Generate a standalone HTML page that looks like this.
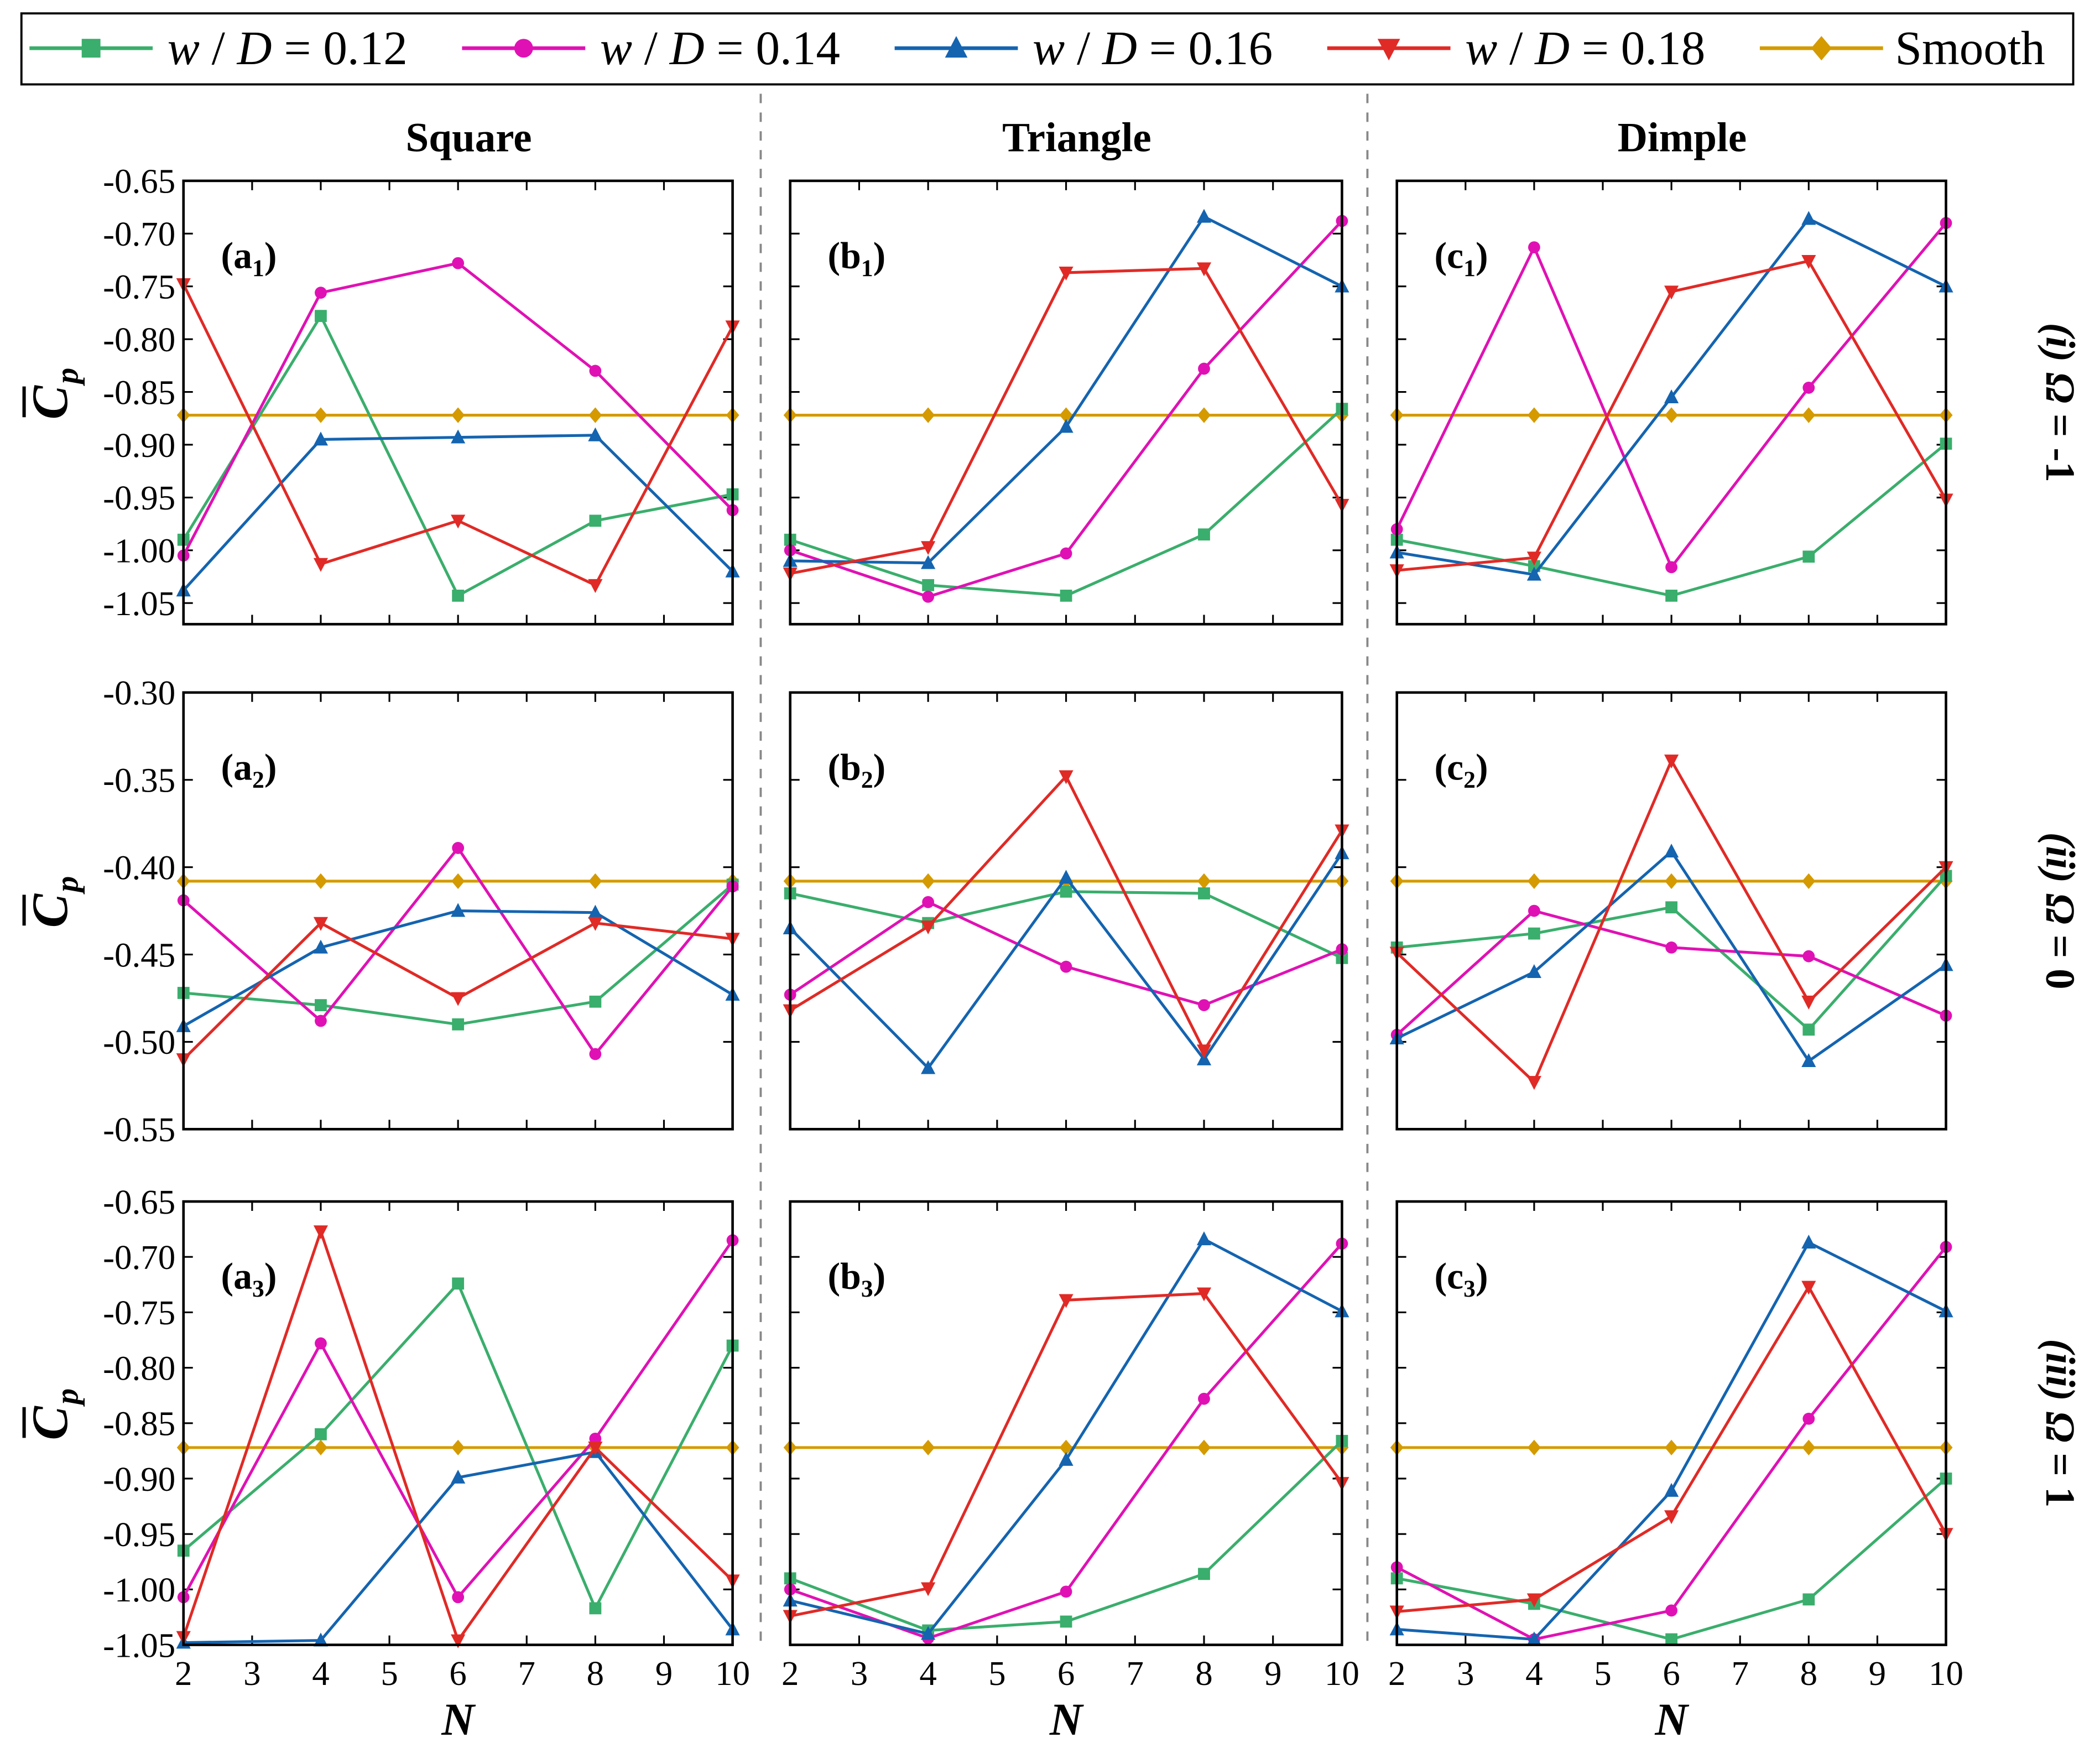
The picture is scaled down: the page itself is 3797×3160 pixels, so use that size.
<!DOCTYPE html>
<html><head><meta charset="utf-8"><style>
html,body{margin:0;padding:0;background:#fff;}
svg{display:block;}
svg text, svg tspan{font-family:"Times New Roman","Liberation Serif",Times,"DejaVu Serif",serif !important;}
</style></head><body>
<svg id="chart" xmlns="http://www.w3.org/2000/svg" width="3797" height="3160" viewBox="0 0 1568 1305" preserveAspectRatio="none">
<rect width="1568" height="1305" fill="#fff"/>
<g id="g"></g>
</svg>
<script>
const NS="http://www.w3.org/2000/svg";
const root=document.getElementById('g');
function mk(tag,attrs,parent,txt){const e=document.createElementNS(NS,tag);for(const k in attrs)e.setAttribute(k,attrs[k]);if(tag==='text')e.style.fontFamily='"Times New Roman","Liberation Serif",Times,serif';if(txt!==undefined)e.textContent=txt;(parent||root).appendChild(e);return e;}

const xCats=[2,4,6,8,10];
const xTicks=[2,3,4,5,6,7,8,9,10];
const seriesNames=["w / D = 0.12","w / D = 0.14","w / D = 0.16","w / D = 0.18","Smooth"];
const seriesColors=["#3aae6c","#e011b4","#1464b0","#e02a26","#d49a00"];
const seriesMarkers=["square","circle","up","down","diamond"];
const colTitles=["Square","Triangle","Dimple"];
const rowLabels=["(i) Ω = -1","(ii) Ω = 0","(iii) Ω = 1"];
const yTicksR1=["-0.65","-0.70","-0.75","-0.80","-0.85","-0.90","-0.95","-1.00","-1.05"];
const yTicksR2=["-0.30","-0.35","-0.40","-0.45","-0.50","-0.55"];
const yTicksR3=["-0.65","-0.70","-0.75","-0.80","-0.85","-0.90","-0.95","-1.00","-1.05"];
const smoothR1=-0.872, smoothR2=-0.408, smoothR3=-0.872;

// Row 1 (Omega=-1)
const a1_g=[-0.990,-0.778,-1.043,-0.972,-0.947];
const a1_m=[-1.005,-0.756,-0.728,-0.830,-0.962];
const a1_b=[-1.038,-0.895,-0.893,-0.891,-1.020];
const a1_r=[-0.748,-1.013,-0.972,-1.033,-0.788];
const b1_g=[-0.990,-1.033,-1.043,-0.985,-0.866];
const b1_m=[-1.000,-1.044,-1.003,-0.828,-0.688];
const b1_b=[-1.010,-1.012,-0.883,-0.684,-0.750];
const b1_r=[-1.022,-0.997,-0.737,-0.733,-0.957];
const c1_g=[-0.990,-1.015,-1.043,-1.006,-0.899];
const c1_m=[-0.980,-0.713,-1.016,-0.846,-0.690];
const c1_b=[-1.002,-1.023,-0.855,-0.686,-0.750];
const c1_r=[-1.019,-1.007,-0.755,-0.726,-0.952];
// Row 2 (Omega=0)
const a2_g=[-0.472,-0.479,-0.490,-0.477,-0.410];
const a2_m=[-0.419,-0.488,-0.389,-0.507,-0.411];
const a2_b=[-0.491,-0.446,-0.425,-0.426,-0.473];
const a2_r=[-0.510,-0.432,-0.475,-0.432,-0.441];
const b2_g=[-0.415,-0.432,-0.414,-0.415,-0.452];
const b2_m=[-0.473,-0.420,-0.457,-0.479,-0.447];
const b2_b=[-0.435,-0.515,-0.406,-0.510,-0.392];
const b2_r=[-0.482,-0.434,-0.348,-0.505,-0.379];
const c2_g=[-0.446,-0.438,-0.423,-0.493,-0.405];
const c2_m=[-0.496,-0.425,-0.446,-0.451,-0.485];
const c2_b=[-0.498,-0.460,-0.391,-0.511,-0.456];
const c2_r=[-0.449,-0.523,-0.339,-0.477,-0.400];
// Row 3 (Omega=1)
const a3_g=[-0.965,-0.860,-0.724,-1.017,-0.780];
const a3_m=[-1.007,-0.778,-1.007,-0.864,-0.685];
const a3_b=[-1.048,-1.046,-0.899,-0.876,-1.036];
const a3_r=[-1.043,-0.677,-1.046,-0.872,-0.992];
const b3_g=[-0.990,-1.037,-1.029,-0.986,-0.866];
const b3_m=[-1.000,-1.044,-1.002,-0.828,-0.688];
const b3_b=[-1.010,-1.040,-0.883,-0.684,-0.749];
const b3_r=[-1.024,-0.999,-0.739,-0.733,-0.904];
const c3_g=[-0.990,-1.013,-1.045,-1.009,-0.900];
const c3_m=[-0.980,-1.045,-1.019,-0.846,-0.691];
const c3_b=[-1.036,-1.045,-0.911,-0.687,-0.749];
const c3_r=[-1.020,-1.009,-0.934,-0.727,-0.950];

const panelData=[
 [[a1_g,a1_m,a1_b,a1_r],[b1_g,b1_m,b1_b,b1_r],[c1_g,c1_m,c1_b,c1_r]],
 [[a2_g,a2_m,a2_b,a2_r],[b2_g,b2_m,b2_b,b2_r],[c2_g,c2_m,c2_b,c2_r]],
 [[a3_g,a3_m,a3_b,a3_r],[b3_g,b3_m,b3_b,b3_r],[c3_g,c3_m,c3_b,c3_r]]];
const smooth=[smoothR1,smoothR2,smoothR3];
const yTickSets=[yTicksR1,yTicksR2,yTicksR3];
const yRanges=[[-1.07,-0.65],[-0.55,-0.30],[-1.05,-0.65]];

const colX=[[137,547],[590,1002],[1043,1453]];
const rowY=[[135,466],[517,843],[897,1228]];

function marker(type,x,y,c,parent,s){
  s=s||4.5;
  if(type==="square")return mk('rect',{x:x-s,y:y-s,width:2*s,height:2*s,fill:c},parent);
  if(type==="circle")return mk('circle',{cx:x,cy:y,r:s,fill:c},parent);
  if(type==="up")return mk('polygon',{points:`${x},${y-s*1.3} ${x-s*1.2},${y+s} ${x+s*1.2},${y+s}`,fill:c},parent);
  if(type==="down")return mk('polygon',{points:`${x},${y+s*1.3} ${x-s*1.2},${y-s} ${x+s*1.2},${y-s}`,fill:c},parent);
  return mk('polygon',{points:`${x},${y-s*1.3} ${x+s*1.1},${y} ${x},${y+s*1.3} ${x-s*1.1},${y}`,fill:c},parent);
}

const leg=mk('g',{});


mk('rect',{x:16,y:10,width:1532,height:53,fill:'#fff',stroke:'#000','stroke-width':1.6},leg);
const legX=[22,345,668,991,1314];
seriesNames.forEach((n,i)=>{
  const e=mk('g',{},leg);
  
  
  const x=legX[i];
  mk('line',{x1:x,y1:36,x2:x+92,y2:36,stroke:seriesColors[i],'stroke-width':2.8},e);
  marker(seriesMarkers[i],x+46,36,seriesColors[i],e,7);
  if(i<4){
    const t=mk('text',{x:x+103,y:48,'font-size':36},e);
    mk('tspan',{'font-style':'italic'},t,'w');mk('tspan',{},t,' / ');mk('tspan',{'font-style':'italic'},t,'D');mk('tspan',{},t,' = 0.1'+(2+2*i));
  } else mk('text',{x:x+101,y:48,'font-size':36},e,'Smooth');
});

[568,1021].forEach((x,i)=>{const l=mk('line',{x1:x,y1:70,x2:x,y2:1232,stroke:'#888','stroke-width':1.6,'stroke-dasharray':'7,7'});
});

colTitles.forEach((t,c)=>{const e=mk('text',{x:(colX[c][0]+colX[c][1])/2+8,y:113,'font-size':31,'font-weight':'bold','text-anchor':'middle'},root,t);
});

const letters=['a','b','c'];
for(let r=0;r<3;r++){
  const [y0,y1]=rowY[r];const [vmin,vmax]=yRanges[r];
  const Y=v=>y1-(v-vmin)/(vmax-vmin)*(y1-y0);
  const rl=mk('text',{transform:`translate(1528,${(y0+y1)/2}) rotate(90)`,'font-size':31,'font-weight':'bold','text-anchor':'middle'},root);
  
  const parts=rowLabels[r].split(' ');
  mk('tspan',{'font-style':'italic'},rl,parts[0]+' Ω');mk('tspan',{},rl,' = '+parts[3]);
  const yt=mk('g',{transform:`translate(50,${(y0+y1)/2}) rotate(-90)`});
  
  mk('text',{x:0,y:0,'font-size':38,'font-weight':'bold','font-style':'italic','text-anchor':'middle'},yt,'C');
  mk('text',{x:14,y:8,'font-size':24,'font-weight':'bold','font-style':'italic'},yt,'p');
  mk('line',{x1:-11,y1:-32,x2:12,y2:-32,stroke:'#000','stroke-width':2.5},yt);
  for(let c=0;c<3;c++){
    const [x0,x1]=colX[c];
    const X=v=>x0+(v-2)/8*(x1-x0);
    const p=mk('g',{});
    
    
    xTicks.forEach(t=>{const x=X(t);
      mk('line',{x1:x,y1:y1,x2:x,y2:y1-7,stroke:'#000','stroke-width':1.3},p);
      mk('line',{x1:x,y1:y0,x2:x,y2:y0+7,stroke:'#000','stroke-width':1.3},p);
      if(r===2){const tl=mk('text',{x:x,y:1258,'font-size':26,'text-anchor':'middle'},p,String(t));
        }
    });
    yTickSets[r].forEach(s=>{const v=parseFloat(s);const y=Y(v);
      mk('line',{x1:x0,y1:y,x2:x0+7,y2:y,stroke:'#000','stroke-width':1.3},p);
      mk('line',{x1:x1,y1:y,x2:x1-7,y2:y,stroke:'#000','stroke-width':1.3},p);
      if(c===0){const tl=mk('text',{x:x0-6,y:y+9,'font-size':26,'text-anchor':'end'},p,s);
        }
    });
    const sm=smooth[r];
    const ss=mk('g',{},p);
    mk('polyline',{points:xCats.map(x=>X(x)+','+Y(sm)).join(' '),fill:'none',stroke:seriesColors[4],'stroke-width':2.1},ss);
    xCats.forEach(x=>marker('diamond',X(x),Y(sm),seriesColors[4],ss));
    panelData[r][c].forEach((arr,i)=>{
      const s=mk('g',{},p);
      
      
      mk('polyline',{points:arr.map((v,k)=>X(xCats[k])+','+Y(v)).join(' '),fill:'none',stroke:seriesColors[i],'stroke-width':2.1},s);
      arr.forEach((v,k)=>marker(seriesMarkers[i],X(xCats[k]),Y(v),seriesColors[i],s));
    });
    mk('rect',{x:x0,y:y0,width:x1-x0,height:y1-y0,fill:'none',stroke:'#000','stroke-width':1.9},p);
    const pl=mk('text',{x:x0+28,y:y0+65,'font-size':28,'font-weight':'bold'},p);
    
    mk('tspan',{},pl,'('+letters[c]);mk('tspan',{'font-size':18,dy:6},pl,String(r+1));mk('tspan',{dy:-6},pl,')');
    if(r===2){const nl=mk('text',{x:(x0+x1)/2,y:1295,'font-size':34,'font-weight':'bold','font-style':'italic','text-anchor':'middle'},p,'N');
      }
  }
}
</script>
</body></html>
